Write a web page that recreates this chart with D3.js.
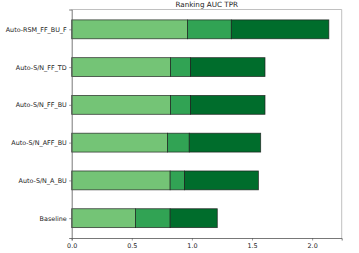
<!DOCTYPE html>
<html>
<head>
<meta charset="utf-8">
<script src="https://cdn.jsdelivr.net/npm/d3@7"></script>
<style>
  body { margin: 0; background: #fff; }
  svg { display: block; font-family: "DejaVu Sans", sans-serif; }
</style>
</head>
<body>
<div id="chart"></div>
<script>
// categories from bottom to top
const categories = ['Baseline', 'Auto-S/N_A_BU', 'Auto-S/N_AFF_BU', 'Auto-S/N_FF_BU', 'Auto-S/N_FF_TD', 'Auto-RSM_FF_BU_F'];
// three stacked segments per category
const seg1 = [0.530, 0.819, 0.797, 0.822, 0.822, 0.963];
const seg2 = [0.289, 0.120, 0.181, 0.167, 0.167, 0.365];
const seg3 = [0.392, 0.614, 0.594, 0.619, 0.619, 0.811];
const xTicks = [0, 0.5, 1.0, 1.5, 2.0];
const colors = ['#74c476', '#31a354', '#006d2c'];
const title = 'Ranking AUC TPR';

const width = 359, height = 253;
const margin = { top: 9.5, right: 17.3, bottom: 15, left: 71.7 };
const innerW = width - margin.left - margin.right;
const innerH = height - margin.top - margin.bottom;

const svg = d3.select('#chart').append('svg')
  .attr('width', width)
  .attr('height', height);

const g = svg.append('g')
  .attr('transform', `translate(${margin.left},${margin.top})`);

const totals = categories.map((c, i) => seg1[i] + seg2[i] + seg3[i]);
const xMax = d3.max(totals) * 1.05;

const x = d3.scaleLinear().domain([0, xMax]).range([0, innerW]);
// matplotlib-style category axis: bar centres at 0..n-1, bar height 0.5
const y = d3.scaleLinear().domain([-0.525, categories.length - 1 + 0.525]).range([innerH, 0]);

const stackData = categories.map((c, i) => ({ cat: c, i, s0: seg1[i], s1: seg2[i], s2: seg3[i] }));
const series = d3.stack().keys(['s0', 's1', 's2'])(stackData);

// bars
g.append('g').selectAll('g')
  .data(series)
  .enter()
  .append('g')
  .attr('fill', (d, k) => colors[k])
  .selectAll('rect')
  .data(d => d)
  .enter()
  .append('rect')
  .attr('x', d => x(d[0]))
  .attr('width', d => x(d[1]) - x(d[0]))
  .attr('y', d => y(d.data.i + 0.25))
  .attr('height', d => y(d.data.i - 0.25) - y(d.data.i + 0.25))
  .attr('stroke', '#1a1a1a')
  .attr('stroke-opacity', 0.8)
  .attr('stroke-width', 0.8);

// frame
g.append('line').attr('x1', 0).attr('x2', innerW).attr('y1', 0).attr('y2', 0)
  .attr('stroke', '#b0b0b0').attr('stroke-width', 0.8);
g.append('line').attr('x1', innerW).attr('x2', innerW).attr('y1', 0).attr('y2', innerH)
  .attr('stroke', '#b0b0b0').attr('stroke-width', 0.8);

// x axis
const xAxis = g.append('g')
  .attr('transform', `translate(0,${innerH})`)
  .call(d3.axisBottom(x).tickValues(xTicks).tickFormat(d3.format('.1f')).tickSize(2.5).tickPadding(3));

// y axis
const yAxis = g.append('g')
  .call(d3.axisLeft(y).tickValues(d3.range(categories.length)).tickFormat(i => categories[i]).tickSize(2.5).tickPadding(2.5));

[xAxis, yAxis].forEach(ax => {
  ax.select('.domain').attr('stroke', '#555').attr('stroke-width', 0.8);
  ax.selectAll('.tick line').attr('stroke', '#555').attr('stroke-width', 0.6);
  ax.selectAll('.tick text').attr('fill', '#222').style('font-size', '6.4px')
    .style('font-family', '"DejaVu Sans", sans-serif');
});

// title
svg.append('text')
  .attr('x', margin.left + innerW / 2)
  .attr('y', 6.5)
  .attr('text-anchor', 'middle')
  .attr('fill', '#222')
  .style('font-size', '7.2px')
  .text(title);
</script>
</body>
</html>
